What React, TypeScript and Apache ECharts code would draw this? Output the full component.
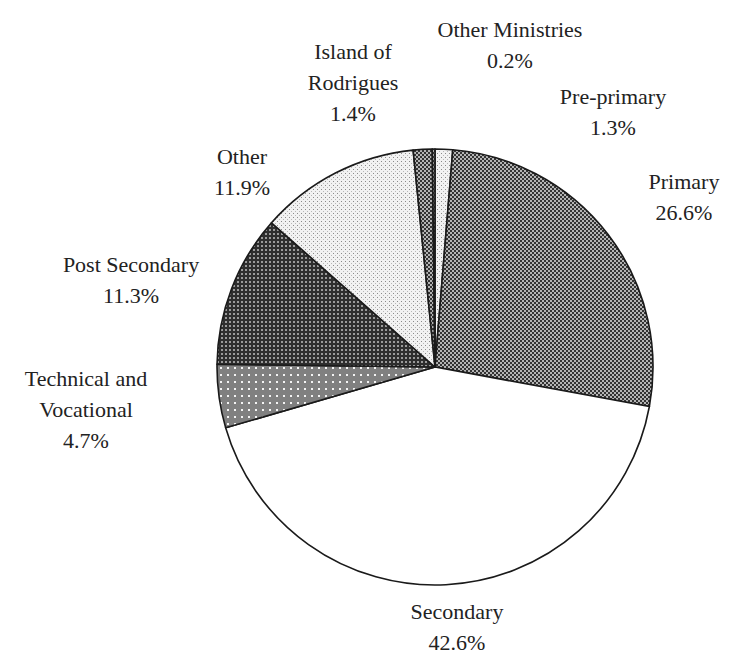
import React, { useEffect, useRef } from "react";
import * as echarts from "echarts";

const categories = [
  "Pre-primary",
  "Primary",
  "Secondary",
  "Technical and\nVocational",
  "Post Secondary",
  "Other",
  "Island of\nRodrigues",
  "Other Ministries",
];
const shares = [1.3, 26.6, 42.6, 4.7, 11.3, 11.9, 1.4, 0.2];

// label block centres (x, y) in pixels
const labelPos: [number, number][] = [
  [613, 112],
  [684, 197],
  [457, 627],
  [86, 409],
  [131, 280],
  [242, 172],
  [353, 82],
  [510, 45],
];

type Kind = "checker" | "darkdots" | "techdots" | "lightdots" | "solid";
const fillKinds: Kind[] = [
  "lightdots",
  "checker",
  "solid",
  "techdots",
  "darkdots",
  "lightdots",
  "checker",
  "checker",
];

const FONT = "Liberation Serif";

function makePattern(kind: Kind): any {
  if (kind === "solid") return "#ffffff";
  const c = document.createElement("canvas");
  let n = 4;
  if (kind === "techdots") n = 7;
  c.width = n;
  c.height = n;
  const g = c.getContext("2d")!;
  if (kind === "checker") {
    g.fillStyle = "#b4b4b4";
    g.fillRect(0, 0, n, n);
    g.fillStyle = "#333333";
    g.fillRect(0, 0, 2, 2);
    g.fillRect(2, 2, 2, 2);
  } else if (kind === "darkdots") {
    g.fillStyle = "#2e2e2e";
    g.fillRect(0, 0, n, n);
    g.fillStyle = "#9a9a9a";
    g.fillRect(1, 1, 2, 2);
  } else if (kind === "techdots") {
    g.fillStyle = "#808080";
    g.fillRect(0, 0, n, n);
    g.fillStyle = "#f4f4f4";
    g.fillRect(3, 3, 2, 2);
  } else {
    g.fillStyle = "#f2f2f2";
    g.fillRect(0, 0, n, n);
    g.fillStyle = "#8a8a8a";
    g.fillRect(1, 1, 1, 1);
    g.fillStyle = "#b8b8b8";
    g.fillRect(3, 3, 1, 1);
  }
  return {
    image: c.toDataURL(),
    imageWidth: n,
    imageHeight: n,
    repeat: "repeat",
  };
}

export default function App() {
  const ref = useRef<HTMLDivElement>(null);
  useEffect(() => {
    document.body.style.margin = "0";
    const chart = echarts.init(ref.current!, null, { renderer: "svg" });
    const data = categories.map((name, i) => ({
      name,
      value: shares[i],
      itemStyle: { color: makePattern(fillKinds[i]) },
      label: { fontFamily: FONT, fontSize: 22 },
    }));
    chart.setOption({
      animation: false,
      backgroundColor: "#ffffff",
      textStyle: { fontFamily: FONT },
      series: [
        {
          type: "pie",
          center: [435, 367],
          radius: 218,
          startAngle: 90,
          clockwise: true,
          avoidLabelOverlap: false,
          emphasis: { disabled: true },
          itemStyle: { borderColor: "#1a1a1a", borderWidth: 1.6 },
          label: {
            show: true,
            position: "inside",
            fontFamily: FONT,
            fontSize: 22,
            lineHeight: 31,
            color: "#222222",
            align: "center",
            overflow: "none",
            formatter: (p: any) => `${p.name}\n${Number(p.value).toFixed(1)}%`,
          },
          labelLine: { show: false },
          labelLayout: (p: any) => {
            const pos = labelPos[p.dataIndex];
            return { x: pos[0], y: pos[1], align: "center", verticalAlign: "middle" };
          },
          data,
        },
      ],
    });
    return () => chart.dispose();
  }, []);
  return <div ref={ref} style={{ width: 731, height: 657 }} />;
}
